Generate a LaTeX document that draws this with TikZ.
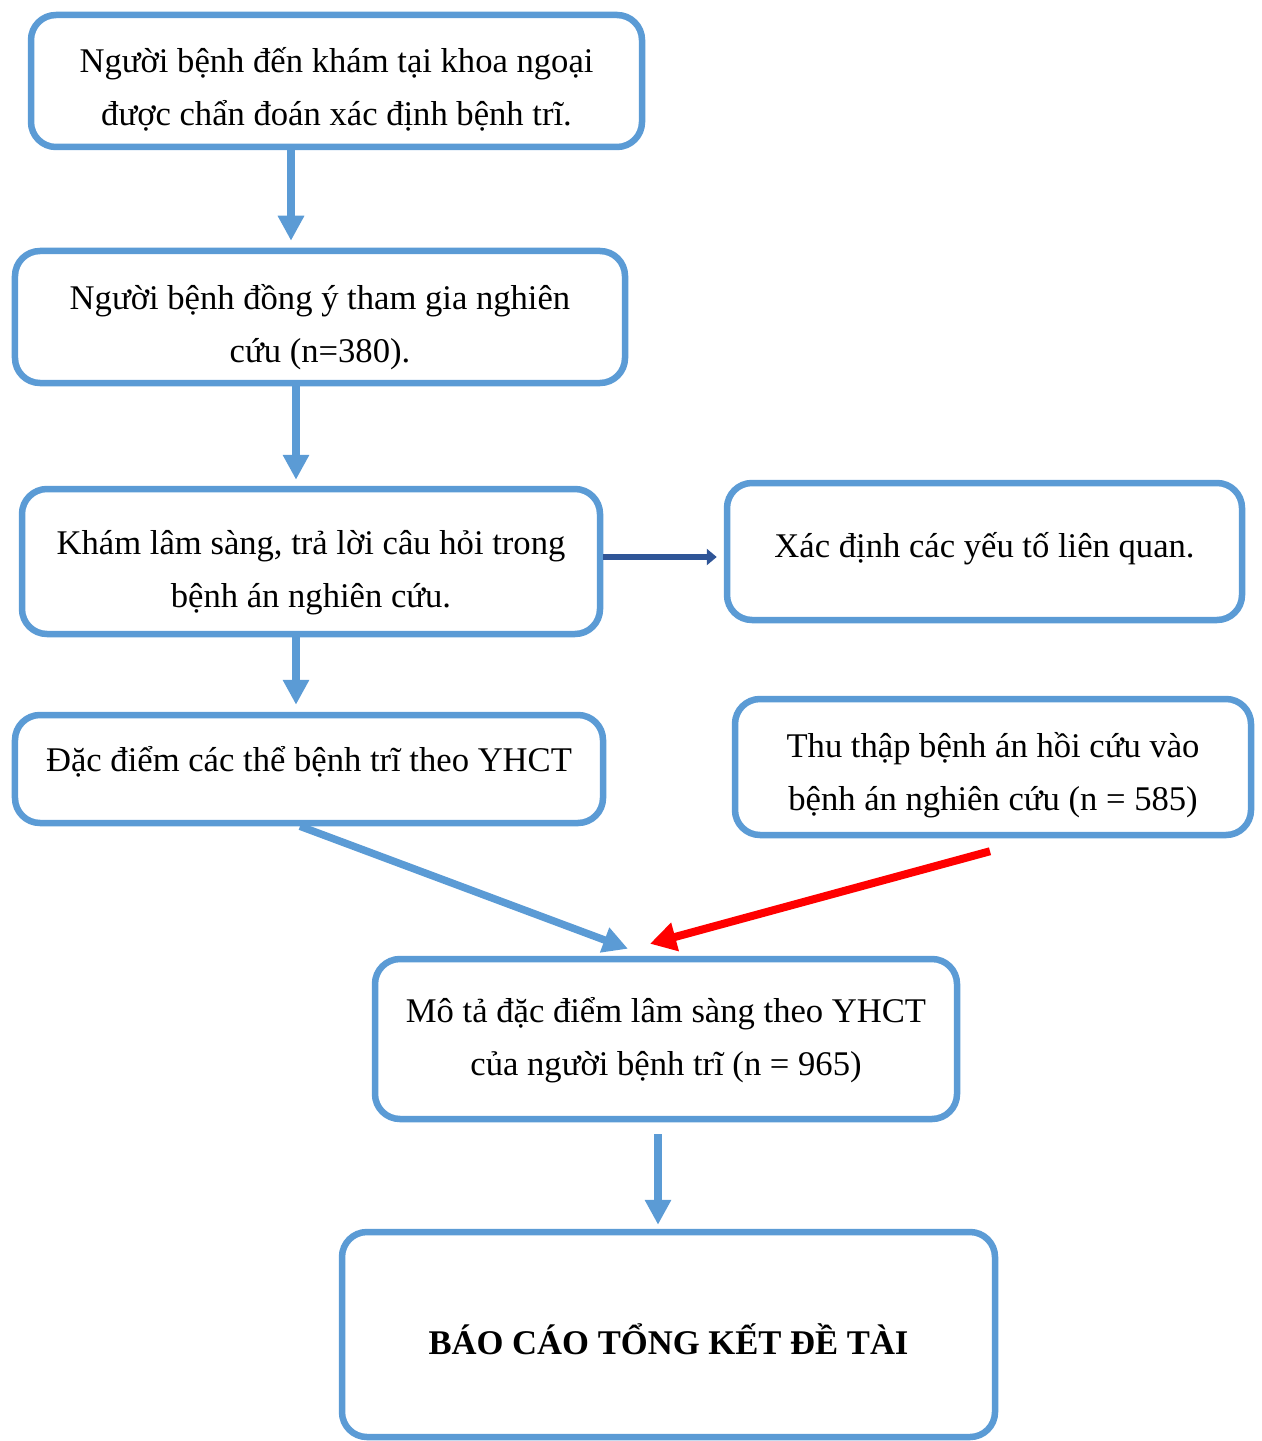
\documentclass[tikz,border=0pt]{standalone}
\usepackage{fontspec}
\setmainfont{Liberation Serif}
\usetikzlibrary{arrows.meta,calc}
\definecolor{boxblue}{HTML}{5B9BD5}
\definecolor{darkarrow}{HTML}{2F5597}

\begin{document}
\begin{tikzpicture}[
  box/.style={rectangle, draw=boxblue, line width=0.065cm, rounded corners=0.25cm, inner sep=0pt},
  boxtext/.style={align=center, font=\fontsize{9.85}{15}\selectfont, inner sep=0pt},
  arrow/.style={-{Triangle[length=0.25cm,width=0.25cm]}, draw=boxblue, line width=0.075cm},
  redarrow/.style={-{Triangle[length=0.26cm,width=0.28cm]}, draw=red, line width=0.08cm},
  sidearrow/.style={-{Triangle[length=0.1cm,width=0.16cm]}, draw=darkarrow, line width=0.055cm}
]
  \useasboundingbox (0,0) rectangle (12.61,-14.41);
  \node[box, minimum width=6.11cm, minimum height=1.32cm,
    label={[boxtext, yshift=-0.085cm]center:Người bệnh đến khám tại khoa ngoại\\được chẩn đoán xác định bệnh trĩ.}] (visit) at (3.365,-0.81) {};
  \node[box, minimum width=6.10cm, minimum height=1.32cm,
    label={[boxtext, yshift=-0.10cm]center:Người bệnh đồng ý tham gia nghiên\\cứu (n=380).}] (consent) at (3.20,-3.17) {};
  \node[box, minimum width=5.78cm, minimum height=1.45cm,
    label={[boxtext, yshift=-0.11cm]center:Khám lâm sàng, trả lời câu hỏi trong\\bệnh án nghiên cứu.}] (exam) at (3.11,-5.615) {};
  \node[box, minimum width=5.15cm, minimum height=1.37cm,
    label={[boxtext, yshift=0.03cm]center:Xác định các yếu tố liên quan.}] (factors) at (9.845,-5.515) {};
  \node[box, minimum width=5.88cm, minimum height=1.08cm,
    label={[boxtext, yshift=0.07cm]center:Đặc điểm các thể bệnh trĩ theo YHCT}] (types) at (3.09,-7.69) {};
  \node[box, minimum width=5.16cm, minimum height=1.36cm,
    label={[boxtext, yshift=-0.08cm]center:Thu thập bệnh án hồi cứu vào\\bệnh án nghiên cứu (n = 585)}] (retro) at (9.93,-7.67) {};
  \node[box, minimum width=5.82cm, minimum height=1.60cm,
    label={[boxtext, yshift=-0.015cm]center:Mô tả đặc điểm lâm sàng theo YHCT\\của người bệnh trĩ (n = 965)}] (describe) at (6.66,-10.39) {};
  \node[box, minimum width=6.53cm, minimum height=2.05cm,
    label={[boxtext, font=\fontsize{9.85}{15}\selectfont\bfseries, yshift=-0.05cm]center:BÁO CÁO TỔNG KẾT ĐỀ TÀI}] (report) at (6.685,-13.345) {};
  % connectors
  \draw[arrow] (visit.south -| 2.91,0) -- ([yshift=0.07cm]consent.north -| 2.91,0);
  \draw[arrow] (consent.south -| 2.96,0) -- ([yshift=0.06cm]exam.north -| 2.96,0);
  \draw[arrow] (exam.south -| 2.96,0) -- ([yshift=0.07cm]types.north -| 2.96,0);
  \draw[sidearrow] (exam.east |- 0,-5.57) -- ([xshift=-0.07cm]factors.west |- 0,-5.57);
  \draw[arrow] (types.south -| 3.00,0) -- ([yshift=0.07cm]describe.north -| 6.28,0);
  \draw[redarrow] ([yshift=-0.13cm]retro.south -| 9.90,0) -- ([yshift=0.12cm]describe.north -| 6.50,0);
  \draw[arrow] ([yshift=-0.12cm]describe.south -| 6.58,0) -- ([yshift=0.04cm]report.north -| 6.58,0);
\end{tikzpicture}
\end{document}
